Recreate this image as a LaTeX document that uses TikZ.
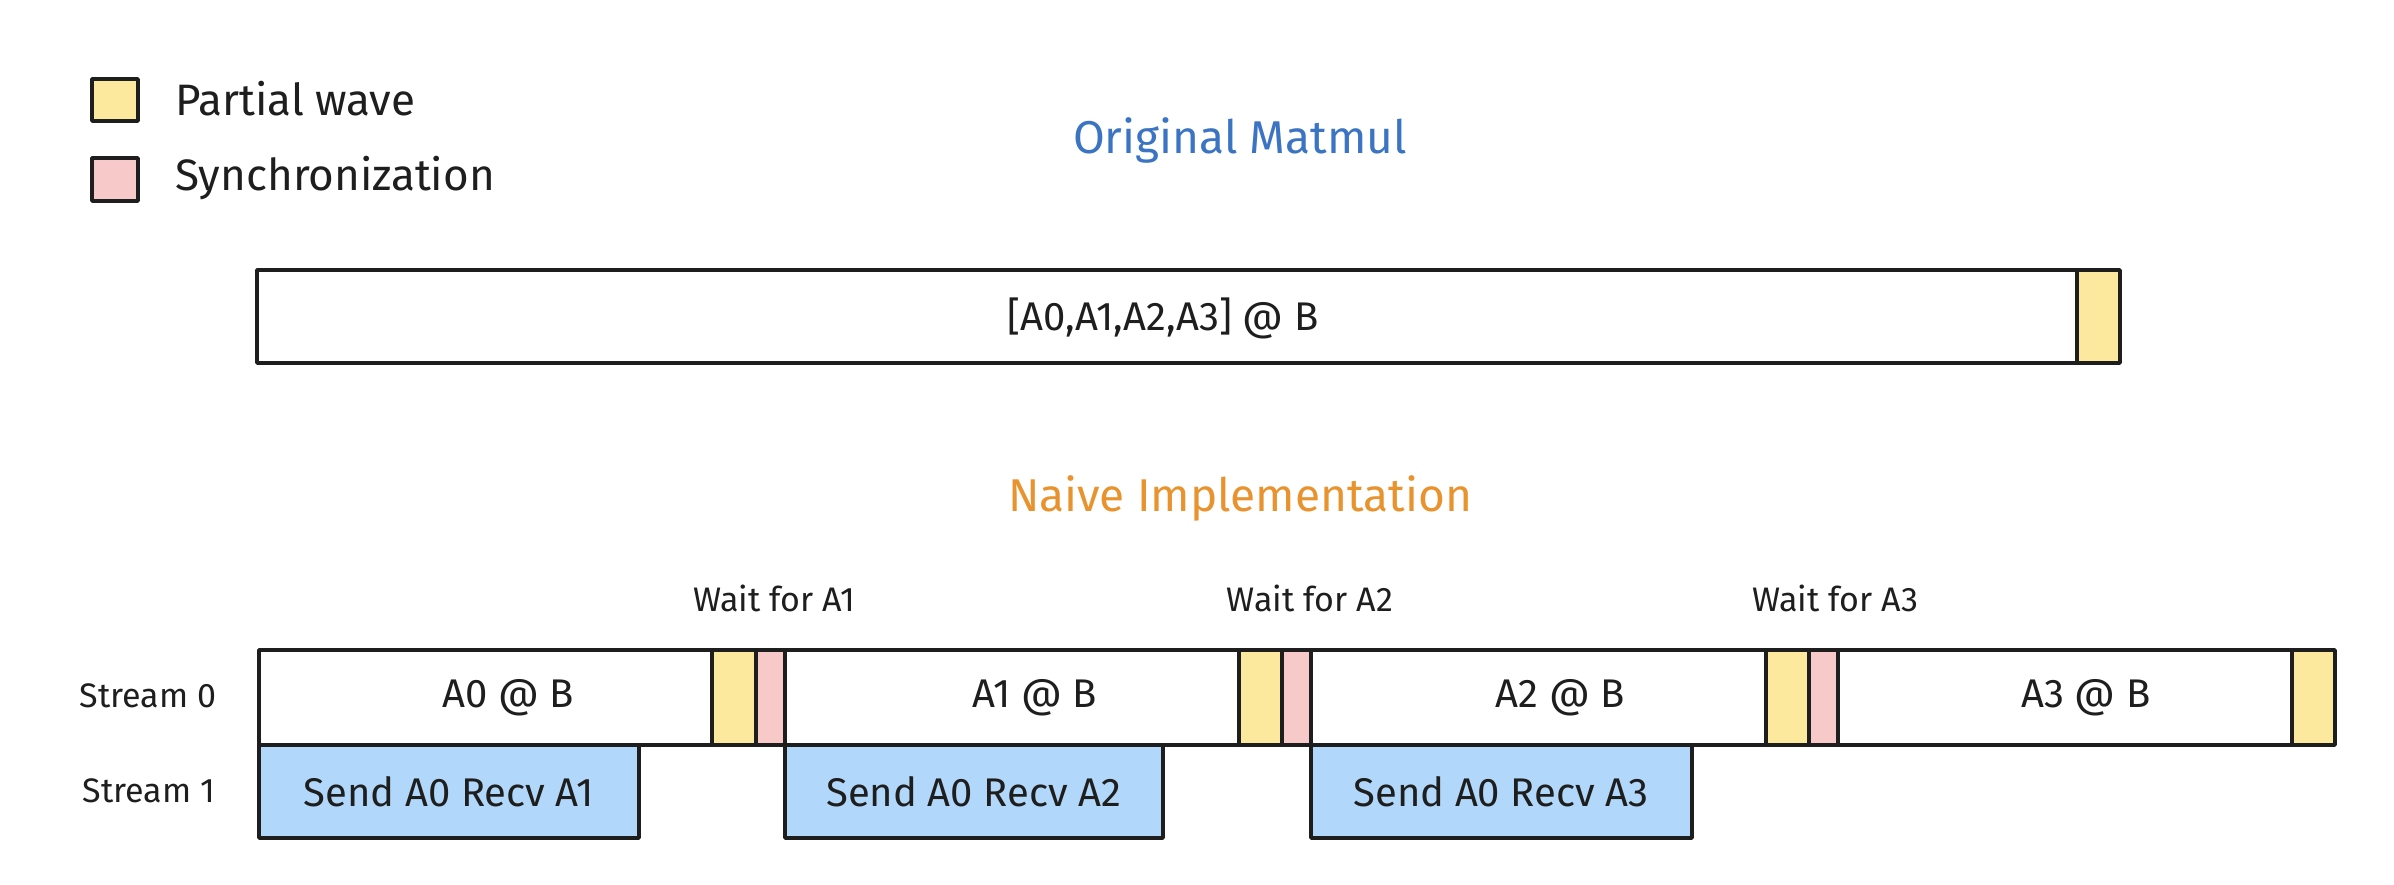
\documentclass[tikz,border=0pt]{standalone}
\usepackage{fontspec}
\setmainfont{Fira Sans}
\definecolor{ink}{HTML}{1E1E1E}
\definecolor{waveY}{HTML}{FCE99D}
\definecolor{syncP}{HTML}{F8C9C9}
\definecolor{commB}{HTML}{B1D8FA}
\definecolor{titleBlue}{HTML}{3A74C2}
\definecolor{titleOrange}{HTML}{E8932E}
\tikzset{
  cell/.style={draw=ink, line width=3.5pt, line join=round},
  lbl/.style={inner sep=0pt, text=ink, font=\fontsize{40}{44}\selectfont},
  small/.style={inner sep=0pt, text=ink, font=\fontsize{34}{38}\selectfont},
  legendtxt/.style={inner sep=0pt, text=ink, anchor=west, font=\fontsize{44}{48}\selectfont},
  title/.style={inner sep=0pt, font=\fontsize{46}{50}\selectfont},
}
\begin{document}
\begin{tikzpicture}[x=1pt,y=-1pt]
\useasboundingbox[fill=white] (0,0) rectangle (2394,884);
% legend
\draw[cell, fill=waveY] (92,79) rectangle (138,121);
\draw[cell, fill=syncP] (92,158) rectangle (138,201);
\node[legendtxt] (lgwave) at (175,99) {Partial wave};
\node[legendtxt] (lgsync) at (175,178) {Synchronization};
% titles
\node[title, text=titleBlue] (torig) at (1240,140) {Original Matmul};
\node[title, text=titleOrange] (tnaive) at (1240,498) {Naive Implementation};
% original matmul bar
\draw[cell, fill=white] (257,270) rectangle (2077,363);
\draw[cell, fill=waveY] (2077,270) rectangle (2120,363);
\node[lbl] (origlbl) at (1163,318) {[A0,A1,A2,A3] @ B};
% stream 0
\draw[cell, fill=white] (259,650) rectangle (712,745);
\draw[cell, fill=waveY] (712,650) rectangle (756,745);
\draw[cell, fill=syncP] (756,650) rectangle (785,745);
\draw[cell, fill=white] (785,650) rectangle (1239,745);
\draw[cell, fill=waveY] (1239,650) rectangle (1282,745);
\draw[cell, fill=syncP] (1282,650) rectangle (1311,745);
\draw[cell, fill=white] (1311,650) rectangle (1766,745);
\draw[cell, fill=waveY] (1766,650) rectangle (1809,745);
\draw[cell, fill=syncP] (1809,650) rectangle (1838,745);
\draw[cell, fill=white] (1838,650) rectangle (2292,745);
\draw[cell, fill=waveY] (2292,650) rectangle (2335,745);
\node[lbl] (a0) at (508,698) {A0 @ B};
\node[lbl] (a1) at (1035,698) {A1 @ B};
\node[lbl] (a2) at (1560,698) {A2 @ B};
\node[lbl] (a3) at (2086,698) {A3 @ B};
% stream 1
\draw[cell, fill=commB] (259,745) rectangle (639,838);
\draw[cell, fill=commB] (785,745) rectangle (1163,838);
\draw[cell, fill=commB] (1311,745) rectangle (1692,838);
\node[lbl] (s1) at (449,792) {Send A0 Recv A1};
\node[lbl] (s2) at (974,792) {Send A0 Recv A2};
\node[lbl] (s3) at (1501,792) {Send A0 Recv A3};
% wait labels
\node[small] (w1) at (774,598) {Wait for A1};
\node[small] (w2) at (1310,598) {Wait for A2};
\node[small] (w3) at (1835,598) {Wait for A3};
% stream labels
\node[small] (st0) at (148,696) {Stream 0};
\node[small] (st1) at (149,791) {Stream 1};
\end{tikzpicture}
\end{document}
